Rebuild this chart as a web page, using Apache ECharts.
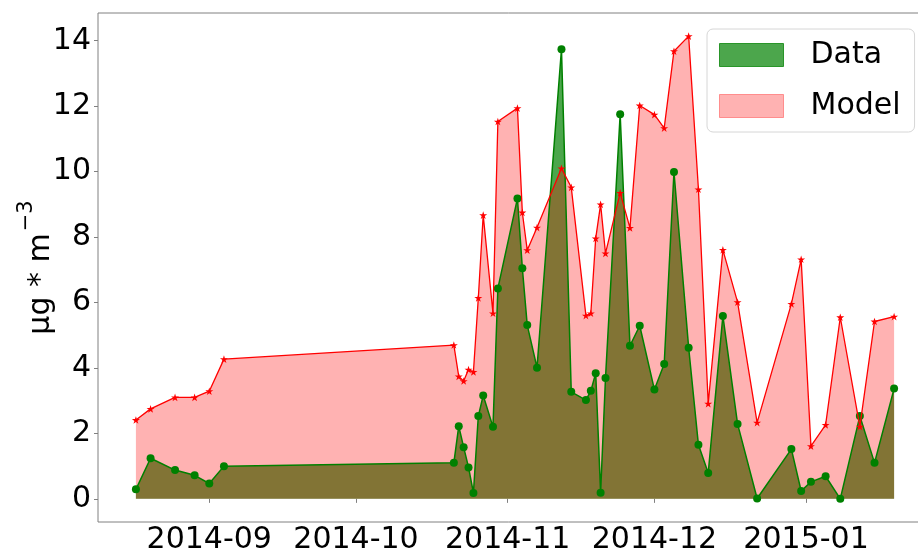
<!DOCTYPE html>
<html>
<head>
<meta charset="utf-8">
<script src="https://cdn.jsdelivr.net/npm/echarts@6/dist/echarts.min.js"></script>
<style>
  html, body { margin: 0; padding: 0; background: #fff; }
  #chart { width: 918px; height: 555px; }
</style>
</head>
<body>
<div id="chart"></div>
<script>
// sample dates
var dates = [
  '2014-08-17', '2014-08-20', '2014-08-25', '2014-08-29', '2014-09-01', '2014-09-04',
  '2014-10-21', '2014-10-22', '2014-10-23', '2014-10-24', '2014-10-25', '2014-10-26',
  '2014-10-27', '2014-10-29', '2014-10-30',
  '2014-11-03', '2014-11-04', '2014-11-05', '2014-11-07', '2014-11-12', '2014-11-14',
  '2014-11-17', '2014-11-18', '2014-11-19', '2014-11-20', '2014-11-21', '2014-11-24',
  '2014-11-26', '2014-11-28',
  '2014-12-01', '2014-12-03', '2014-12-05', '2014-12-08', '2014-12-10', '2014-12-12',
  '2014-12-15', '2014-12-18', '2014-12-22', '2014-12-29', '2014-12-31',
  '2015-01-02', '2015-01-05', '2015-01-08', '2015-01-12', '2015-01-15', '2015-01-19'
];

// measured values
var dataValues = [
  0.29, 1.24, 0.88, 0.72, 0.47, 1.00,
  1.10, 2.22, 1.58, 0.96, 0.18, 2.53, 3.16, 2.20, 6.43,
  9.18, 7.05, 5.31, 4.01, 13.74, 3.27, 3.02, 3.30, 3.84, 0.19, 3.69, 11.75, 4.68, 5.29,
  3.34, 4.12, 9.99, 4.62, 1.65, 0.79, 5.59, 2.29, 0.01, 1.52, 0.24,
  0.52, 0.69, 0.00, 2.53, 1.10, 3.37
];

// model values
var modelValues = [
  2.41, 2.75, 3.10, 3.10, 3.29, 4.27,
  4.70, 3.74, 3.60, 3.95, 3.88, 6.14, 8.67, 5.67, 11.53,
  11.94, 8.75, 7.60, 8.29, 10.10, 9.52, 5.60, 5.67, 7.96, 9.00, 7.50, 9.35, 8.28, 12.02,
  11.74, 11.33, 13.68, 14.14, 9.46, 2.91, 7.61, 6.01, 2.33, 5.96, 7.32,
  1.61, 2.26, 5.55, 2.21, 5.42, 5.57
];

var FONT = 'DejaVu Sans';
var STAR = 'path://M0,-1 L0.2245,-0.309 L0.951,-0.309 L0.363,0.118 L0.588,0.809 L0,0.382 L-0.588,0.809 L-0.363,0.118 L-0.951,-0.309 L-0.2245,-0.309 Z';

function pairs(vals) {
  return dates.map(function (d, i) { return [d, vals[i]]; });
}

// axis extents with 5% margins like the original plot
var t0 = echarts.time.parse(dates[0]).getTime();
var t1 = echarts.time.parse(dates[dates.length - 1]).getTime();
var xPad = (t1 - t0) * 0.05;
var yTop = Math.max.apply(null, modelValues.concat(dataValues));
var yPad = yTop * 0.05;

var chart = echarts.init(document.getElementById('chart'), null, { renderer: 'canvas' });

var option = {
  animation: false,
  backgroundColor: '#fff',
  grid: {
    left: 98,
    right: -14,
    top: 13,
    bottom: 33,
    containLabel: false,
    outerBoundsMode: 'none',
    show: true,
    borderColor: '#808080',
    borderWidth: 1
  },
  legend: {
    left: 707,
    top: 29,
    orient: 'vertical',
    padding: [11, 14, 11, 12],
    itemWidth: 64,
    itemHeight: 23,
    itemGap: 21,
    backgroundColor: 'rgba(255,255,255,0.8)',
    borderColor: '#d6d6d6',
    borderWidth: 1,
    borderRadius: 6,
    textStyle: { fontFamily: FONT, fontSize: 30, color: '#000', padding: [0, 0, 0, 22] },
    data: [
      { name: 'Data', icon: 'rect', itemStyle: { color: 'rgba(0,128,0,0.7)', borderColor: 'rgba(0,128,0,0.75)', borderWidth: 1 } },
      { name: 'Model', icon: 'rect', itemStyle: { color: 'rgba(255,0,0,0.3)', borderColor: 'rgba(255,0,0,0.35)', borderWidth: 1 } }
    ]
  },
  xAxis: {
    type: 'time',
    min: t0 - xPad,
    max: t1 + xPad,
    splitNumber: 6,
    axisLine: { show: false },
    axisTick: { show: true, length: 4, lineStyle: { color: '#808080' } },
    splitLine: { show: false },
    axisLabel: {
      formatter: '{yyyy}-{MM}',
      fontFamily: FONT,
      fontSize: 30,
      color: '#000',
      margin: 3,
      showMinLabel: false,
      showMaxLabel: false,
      hideOverlap: false
    }
  },
  yAxis: {
    type: 'value',
    min: -yPad,
    max: yTop + yPad,
    splitNumber: 7,
    axisLine: { show: false },
    axisTick: { show: true, length: 4, lineStyle: { color: '#808080' } },
    splitLine: { show: false },
    axisLabel: {
      fontFamily: FONT,
      fontSize: 30,
      color: '#000',
      margin: 7,
      showMinLabel: false,
      showMaxLabel: false,
      formatter: function (v) {
        return Math.abs(v - Math.round(v)) < 1e-6 && Math.round(v) % 2 === 0 ? String(Math.round(v)) : '';
      }
    },
    name: '{a|µg * m}{b|−3}',
    nameLocation: 'middle',
    nameGap: 42,
    nameMoveOverlap: false,
    nameTextStyle: {
      rich: {
        a: { fontFamily: FONT, fontSize: 30, color: '#000', lineHeight: 40, verticalAlign: 'bottom' },
        b: { fontFamily: FONT, fontSize: 21, color: '#000', lineHeight: 40, verticalAlign: 'top', padding: [0, 0, 0, 2] }
      }
    }
  },
  series: [
    {
      name: 'Data',
      type: 'line',
      data: pairs(dataValues),
      showSymbol: false,
      symbol: 'none',
      lineStyle: { width: 0 },
      itemStyle: { color: 'rgba(0,128,0,0.7)' },
      areaStyle: { color: 'rgb(0,128,0)', opacity: 0.7 },
      z: 1
    },
    {
      name: 'Model',
      type: 'line',
      data: pairs(modelValues),
      showSymbol: false,
      symbol: 'none',
      lineStyle: { width: 0 },
      itemStyle: { color: 'rgba(255,0,0,0.3)' },
      areaStyle: { color: 'rgb(255,0,0)', opacity: 0.3 },
      z: 2
    },
    {
      name: 'Data line',
      type: 'line',
      data: pairs(dataValues),
      symbol: 'circle',
      symbolSize: 8,
      lineStyle: { color: '#008000', width: 1.5 },
      itemStyle: { color: '#008000' },
      z: 3
    },
    {
      name: 'Model line',
      type: 'line',
      data: pairs(modelValues),
      symbol: STAR,
      symbolSize: 8,
      symbolKeepAspect: true,
      lineStyle: { color: '#ff0000', width: 1.3 },
      itemStyle: { color: '#ff0000' },
      z: 4
    }
  ]
};

chart.setOption(option);
</script>
</body>
</html>
